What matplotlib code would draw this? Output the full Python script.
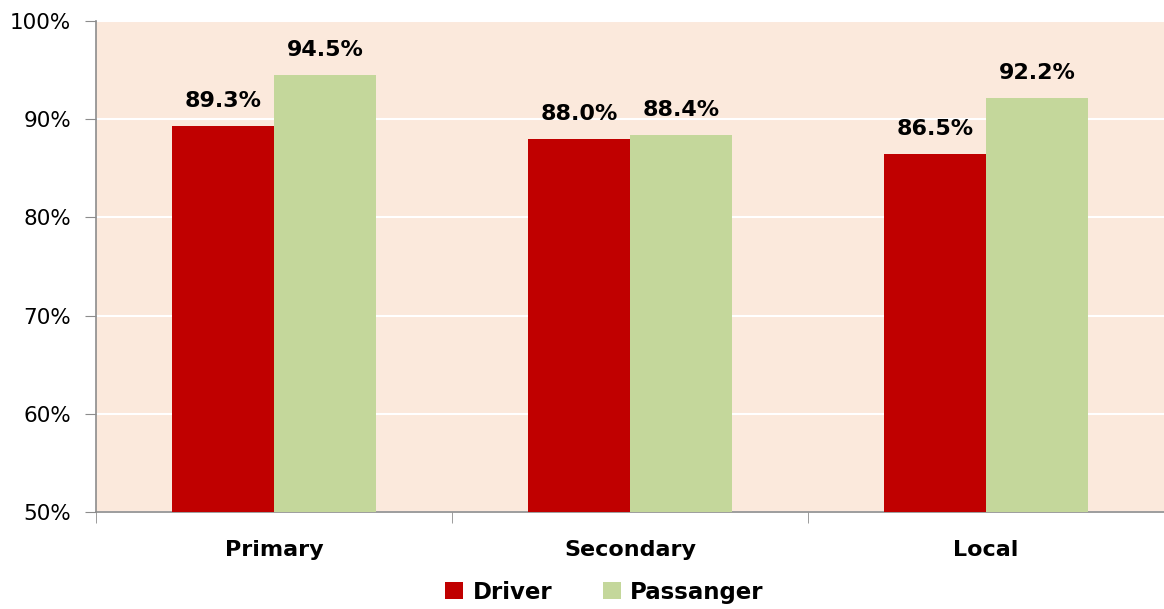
import matplotlib.pyplot as plt
import numpy as np

categories = ["Primary", "Secondary", "Local"]
driver = [89.3, 88.0, 86.5]
passenger = [94.5, 88.4, 92.2]
y_ticks = [50, 60, 70, 80, 90, 100]

plt.rcParams['font.family'] = ['DejaVu Sans']

fig = plt.figure(figsize=(11.64, 6.09), dpi=100)
ax = fig.add_axes([96 / 1164, 1 - 512 / 609, 1 - 96 / 1164, (512 - 21) / 609])
ax.set_facecolor("#FBE9DC")

x = np.arange(len(categories))
w = 0.286
b1 = ax.bar(x - w / 2, driver, w, color="#C00000", label="Driver", zorder=3)
b2 = ax.bar(x + w / 2, passenger, w, color="#C4D79B", label="Passanger", zorder=3)

for bars, vals in ((b1, driver), (b2, passenger)):
    for r, v in zip(bars, vals):
        ax.text(r.get_x() + r.get_width() / 2, v + 1.5, f"{v:.1f}%",
                ha="center", va="bottom", fontsize=16, fontweight="bold")

ax.set_ylim(50, 100)
ax.set_xlim(-0.5, len(categories) - 0.5)
ax.set_yticks(y_ticks)
ax.set_yticklabels([f"{t}%" for t in y_ticks], fontsize=15.5)
ax.yaxis.grid(True, color="white", linewidth=1.5, zorder=1)

ax.set_xticks(x)
ax.set_xticklabels(categories, fontsize=16, fontweight="bold")
ax.tick_params(axis="x", length=0, pad=20)
ax.set_xticks(np.arange(-0.5, len(categories)), minor=True)
ax.tick_params(axis="x", which="minor", length=8, color="#8C8C8C", direction="out")
ax.tick_params(axis="y", length=8, color="#8C8C8C", direction="out", pad=10)

for s in ("top", "right"):
    ax.spines[s].set_visible(False)
for s in ("left", "bottom"):
    ax.spines[s].set_color("#8C8C8C")
    ax.spines[s].set_linewidth(1.2)

ax.legend(loc="center", bbox_to_anchor=(0.476, -0.163), ncol=2, frameon=False,
          prop={"size": 16.5, "weight": "bold"}, handlelength=0.8, handleheight=0.8,
          columnspacing=2.2, handletextpad=0.4, borderpad=0)

fig.savefig("out.png", dpi=100)
